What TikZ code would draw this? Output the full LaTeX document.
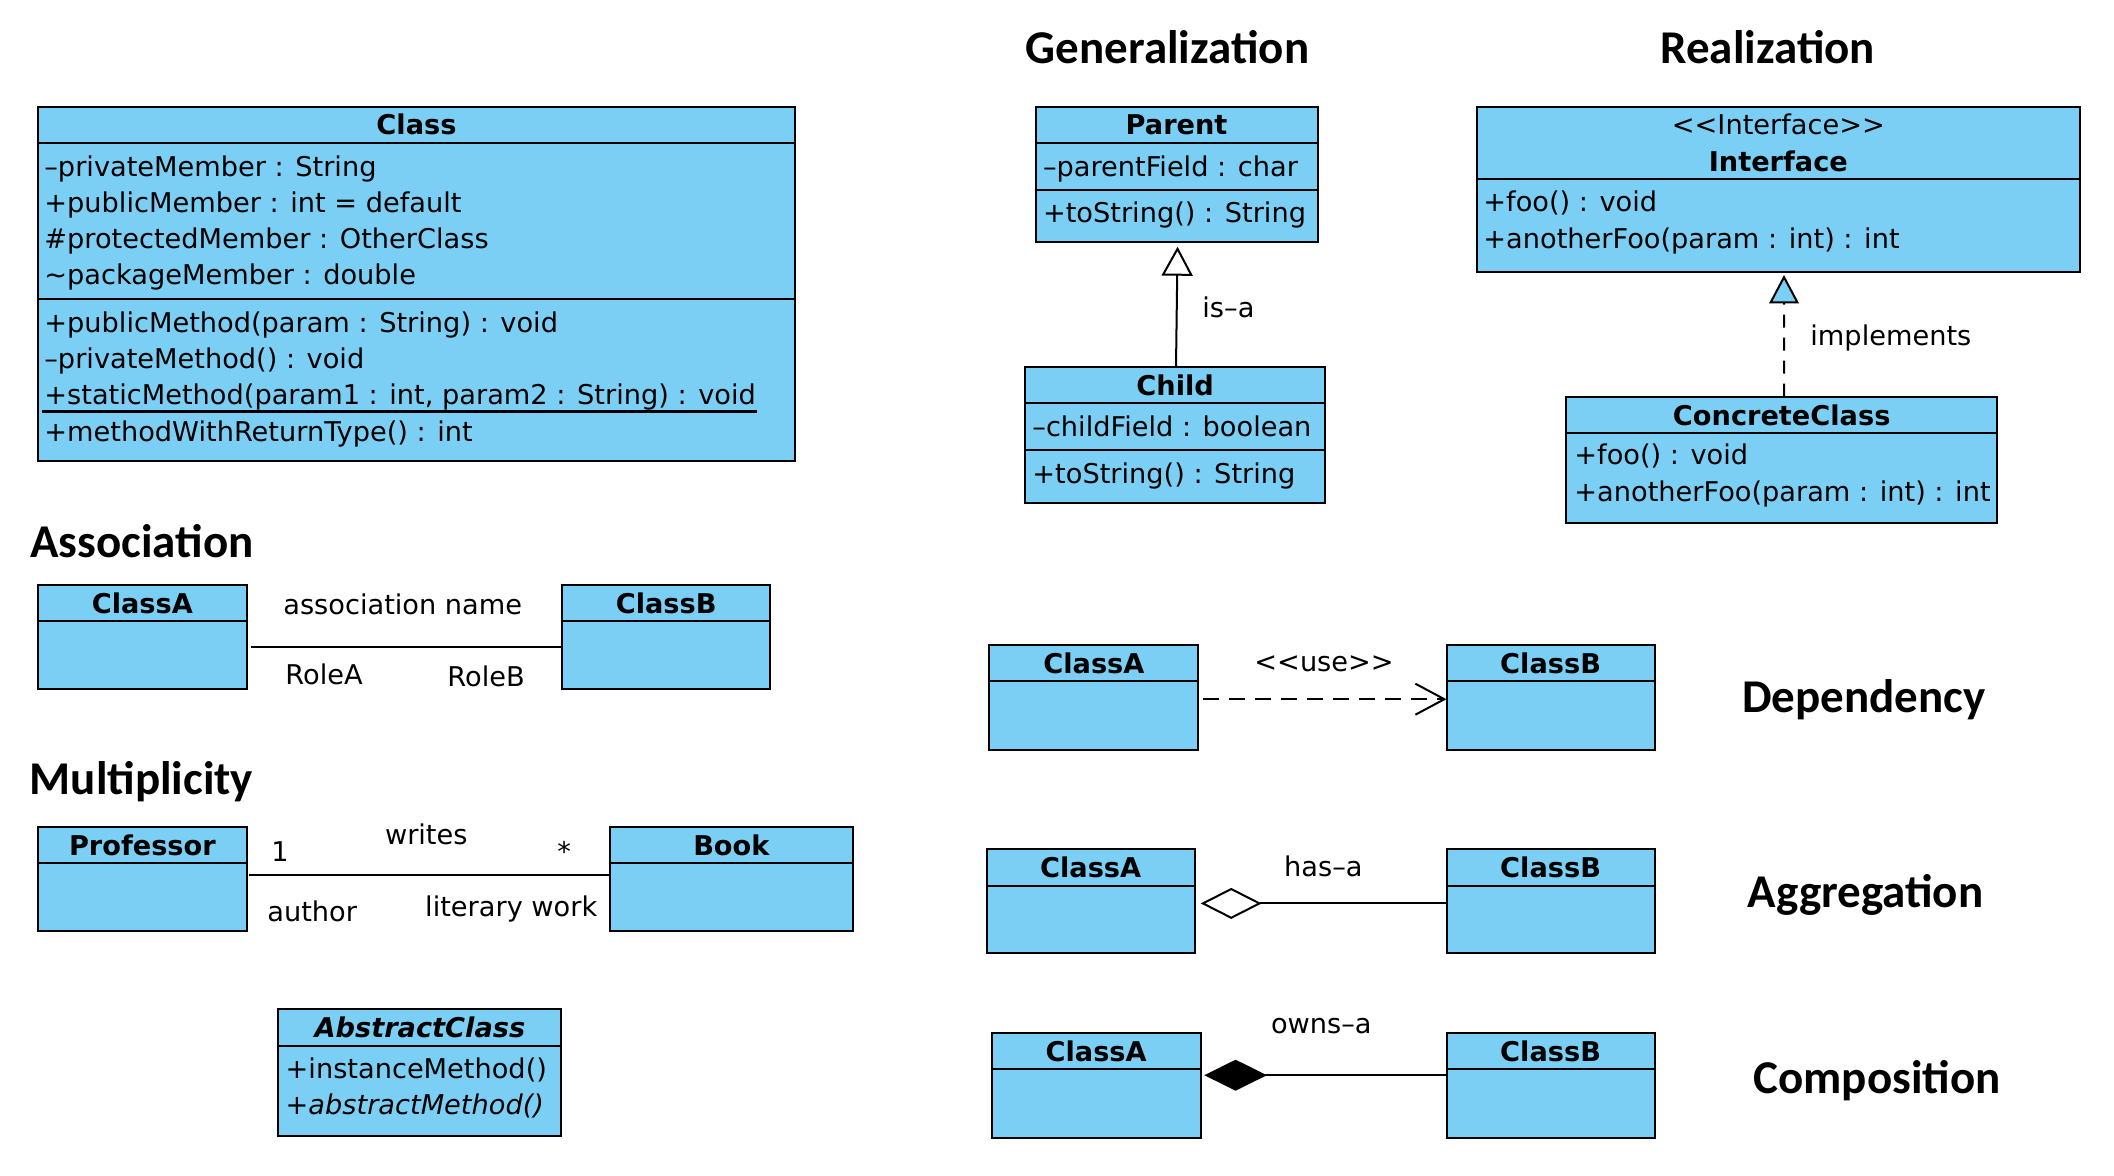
\documentclass[tikz,border=0pt]{standalone}
\usepackage{fontspec}
\setmainfont{DejaVu Sans}
\newfontfamily\headfam{Carlito}
\usetikzlibrary{arrows.meta,calc}
\definecolor{umlblue}{RGB}{123,207,245}
\newcommand{\bodyfont}{\fontsize{13.6}{16}\selectfont}
\newcommand{\headfont}{\headfam\bfseries\fontsize{23.5}{28}\selectfont}
\newcommand{\umlbox}[5]{\node[classbox, minimum width={0.5pt*(#4-#2)}, minimum height={0.5pt*(#5-#3)}] (#1) at (#2,#3) {};}
\newcommand{\umldiv}[2]{\draw[boxline] (#1.west |- 0,#2) -- (#1.east |- 0,#2);}
\newcommand{\dsh}{\textendash}
\begin{document}
\begin{tikzpicture}[x=0.5pt,y=-0.5pt,
  classbox/.style={draw, fill=umlblue, line width=1pt, inner sep=0pt, outer sep=0pt, anchor=north west},
  boxline/.style={line width=1pt},
  txt/.style={inner sep=0pt, anchor=base west, font=\bodyfont},
  ttl/.style={inner sep=0pt, anchor=base, font=\bodyfont\bfseries},
  head/.style={inner sep=0pt, anchor=base west, font=\headfont},
  conn/.style={line width=1pt}]
\fill[white] (0,0) rectangle (2114,1176);
\useasboundingbox (0,0) rectangle (2114,1176);

% ---------- Class ----------
\umlbox{cls}{38}{107.3}{795}{460.7}
\umldiv{cls}{142.7}
\umldiv{cls}{299.3}
\node[ttl] (clsT) at (cls.north |- 0,135) {Class};
\node[txt] (a1) at (44,177) {\dsh privateMember : String};
\node[txt] (a2) at (44,213) {+publicMember : int = default};
\node[txt] (a3) at (44,249) {\#protectedMember : OtherClass};
\node[txt] (a4) at (44,285) {\textasciitilde packageMember : double};
\node[txt] (m1) at (44,333) {+publicMethod(param : String) : void};
\node[txt] (m2) at (44,369) {\dsh privateMethod() : void};
\node[txt] (m3) at (44,405) {+staticMethod(param1 : int, param2 : String) : void};
\node[txt] (m4) at (44,441) {+methodWithReturnType() : int};
\draw[line width=1.2pt] ($(m3.base west)+(-2,6.7)$) -- ($(m3.base east)+(1,6.7)$);

% ---------- Generalization ----------
\node[head] (hGen) at (1025.5,63.3) {Generalization};
\umlbox{parent}{1035.5}{107.3}{1317.6}{242.3}
\umldiv{parent}{142.7}
\umldiv{parent}{190}
\node[ttl] (parentT) at (parent.north |- 0,135) {Parent};
\node[txt] (p1) at (1042.6,177) {\dsh parentField : char};
\node[txt] (p2) at (1042.6,223) {+toString() : String};
\umlbox{child}{1025}{366.7}{1325.4}{502.7}
\umldiv{child}{403.3}
\umldiv{child}{450}
\node[ttl] (childT) at (child.north |- 0,395) {Child};
\node[txt] (ch1) at (1032,436.7) {\dsh childField : boolean};
\node[txt] (ch2) at (1032,483.3) {+toString() : String};
\draw[conn,-{Triangle[open,length=14.5pt,width=15.5pt]}] ([xshift=0.4pt]child.north) -- ([xshift=0.5pt,yshift=-2.2pt]parent.south);
\node[txt] (isa) at (1202,317.7) {is\dsh a};

% ---------- Realization ----------
\node[head] (hReal) at (1660,63.3) {Realization};
\umlbox{iface}{1476.7}{107.3}{2080}{271.7}
\umldiv{iface}{179.3}
\node[inner sep=0pt, anchor=base, font=\bodyfont] (ifaceS) at (iface.north |- 0,135) {<\kern0pt<Interface>\kern0pt>};
\node[ttl] (ifaceT) at (iface.north |- 0,171.7) {Interface};
\node[txt] (i1) at (1483,211.7) {+foo() : void};
\node[txt] (i2) at (1483,248.3) {+anotherFoo(param : int) : int};
\umlbox{concrete}{1566}{396.7}{1997.4}{522.7}
\umldiv{concrete}{433.3}
\node[ttl] (concreteT) at (concrete.north |- 0,425) {ConcreteClass};
\node[txt] (k1) at (1574,465) {+foo() : void};
\node[txt] (k2) at (1574,501.7) {+anotherFoo(param : int) : int};
\draw[conn,dash pattern=on 6.5pt off 5pt,-{Triangle[fill=umlblue,length=14.2pt,width=14.8pt]}] ([xshift=1.2pt]concrete.north) -- ($(concrete.north |- iface.south)+(2.3,3.3)$);
\node[txt] (impl) at (1810,346) {implements};

% ---------- Association ----------
\node[head] (hAssoc) at (30,557.3) {Association};
\umlbox{assocA}{37.9}{585.4}{246.8}{689.4}
\umldiv{assocA}{621.2}
\node[ttl] (assocAT) at (assocA.north |- 0,613.3) {ClassA};
\umlbox{assocB}{562}{585.4}{770.4}{689.4}
\umldiv{assocB}{621.2}
\node[ttl] (assocBT) at (assocB.north |- 0,613.3) {ClassB};
\draw[conn] ($(assocA.east |- 0,647.3)+(4.6,0)$) -- (assocB.west |- 0,647.3);
\node[txt] (assocN) at (283,614.5) {association name};
\node[txt] (roleA) at (285,684) {RoleA};
\node[txt] (roleB) at (447,686) {RoleB};

% ---------- Multiplicity ----------
\node[head] (hMult) at (29.3,794) {Multiplicity};
\umlbox{prof}{38}{827}{246.8}{931.4}
\umldiv{prof}{862.8}
\node[ttl] (profT) at (prof.north |- 0,855) {Professor};
\umlbox{book}{610.2}{827}{852.5}{931.4}
\umldiv{book}{862.8}
\node[ttl] (bookT) at (book.north |- 0,855) {Book};
\draw[conn] ($(prof.east |- 0,875.4)+(1.8,0)$) -- (book.west |- 0,875.4);
\node[txt] (one) at (271,861.6) {1};
\node[txt] (writes) at (384.6,844.3) {writes};
\node[txt] (star) at (557,861.6) {*};
\node[txt] (author) at (267,921.7) {author};
\node[txt] (litwork) at (424.8,916.7) {literary work};

% ---------- Abstract ----------
\umlbox{abs}{278.4}{1009.3}{561.4}{1136.4}
\umldiv{abs}{1045.9}
\node[ttl] (absT) at (abs.north |- 0,1037.6) {\itshape AbstractClass};
\node[txt] (ab1) at (285.3,1078.7) {+instanceMethod()};
\node[txt] (ab2) at (285.3,1114.5) {\itshape +abstractMethod()};

% ---------- Dependency ----------
\umlbox{depA}{989.4}{644.8}{1198.4}{749.8}
\umldiv{depA}{681.3}
\node[ttl] (depAT) at (depA.north |- 0,673) {ClassA};
\umlbox{depB}{1446.5}{644.8}{1654.7}{749.8}
\umldiv{depB}{681.3}
\node[ttl] (depBT) at (depB.north |- 0,673) {ClassB};
\draw[conn,dash pattern=on 8pt off 5pt,-{Straight Barb[length=14.5pt,width=15.5pt]}] ($(depA.east |- 0,699.2)+(4.6,0)$) -- (depB.west |- 0,699.2);
\node[txt] (use) at (1254,671.7) {<\kern0pt<use>\kern0pt>};
\node[head] (hDep) at (1741.6,712.3) {Dependency};

% ---------- Aggregation ----------
\umlbox{aggA}{986.5}{848.6}{1194.8}{953.3}
\umldiv{aggA}{885.5}
\node[ttl] (aggAT) at (aggA.north |- 0,877) {ClassA};
\umlbox{aggB}{1446.5}{848.6}{1654.7}{953.3}
\umldiv{aggB}{885.5}
\node[ttl] (aggBT) at (aggB.north |- 0,877) {ClassB};
\draw[conn,-{Diamond[open,length=30.5pt,width=15.5pt]}] (aggB.west |- 0,903.4) -- ($(aggA.east |- 0,903.4)+(5.9,0)$);
\node[txt] (hasa) at (1283.8,876.5) {has\dsh a};
\node[head] (hAgg) at (1747.5,907.5) {Aggregation};

% ---------- Composition ----------
\umlbox{compA}{991.6}{1032.5}{1200.7}{1137.6}
\umldiv{compA}{1069.4}
\node[ttl] (compAT) at (compA.north |- 0,1061) {ClassA};
\umlbox{compB}{1446.5}{1032.5}{1654.7}{1137.6}
\umldiv{compB}{1069.4}
\node[ttl] (compBT) at (compB.north |- 0,1061) {ClassB};
\draw[conn,-{Diamond[length=31.3pt,width=15.5pt]}] (compB.west |- 0,1075.2) -- ($(compA.east |- 0,1075.2)+(3.6,0)$);
\node[txt] (ownsa) at (1270.6,1033.2) {owns\dsh a};
\node[head] (hComp) at (1753,1093.5) {Composition};
\end{tikzpicture}
\end{document}
